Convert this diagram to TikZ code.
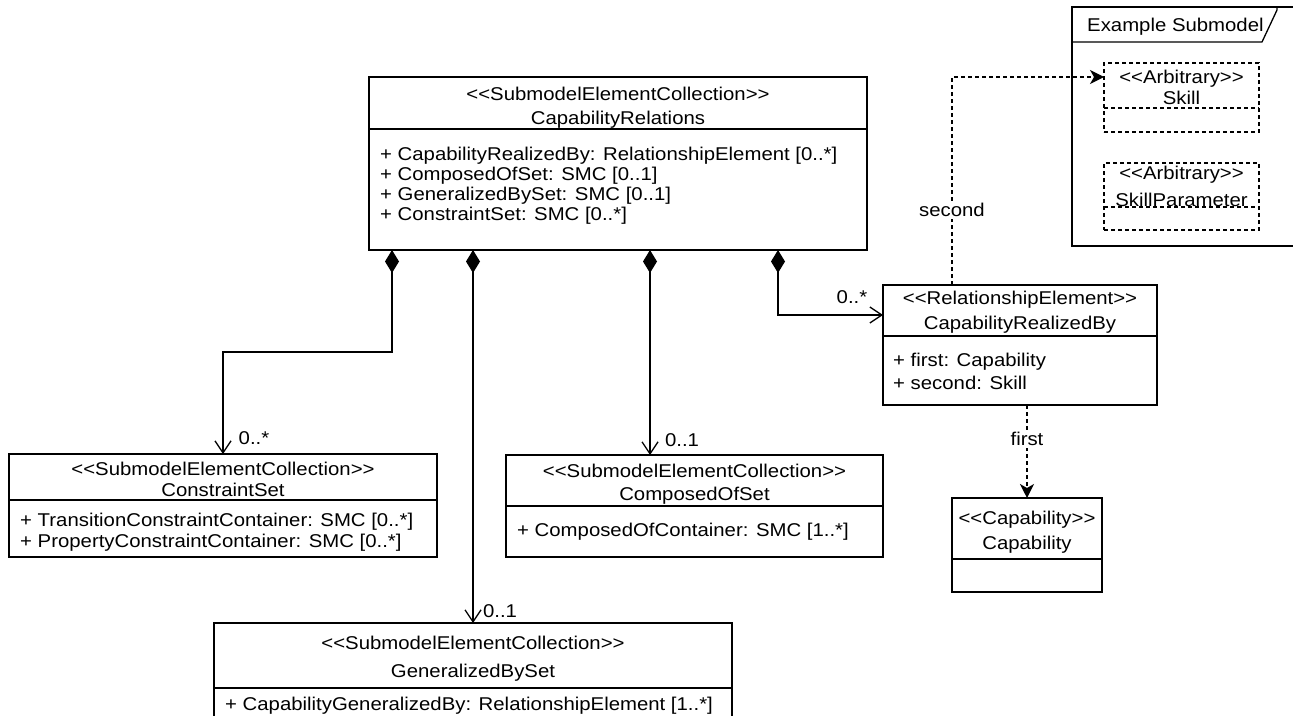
\documentclass[tikz,border=0pt]{standalone}
\usepackage{fontspec}
\setmainfont{Liberation Sans}[FakeStretch=1.1]
\usetikzlibrary{arrows.meta,calc}
\newcommand\stx[1]{<\kern0pt<#1>\kern0pt>}
\begin{document}
\begin{tikzpicture}[x=1pt,y=-1pt,
  font=\fontsize{18.5}{20}\selectfont,
  lw/.style={line width=1.3pt},
  cls/.style={draw,lw,anchor=north west,inner sep=0pt,outer sep=0pt},
  dcls/.style={cls,dash pattern=on 4pt off 3pt},
  txt/.style={anchor=base,inner sep=0pt},
  attr/.style={anchor=base west,inner sep=0pt},
  lbl/.style={anchor=center,inner sep=0pt},
  wlbl/.style={anchor=center,inner sep=2pt,fill=white},
  comp/.style={lw,{Diamond[length=23pt,width=14pt]}-{Straight Barb[length=12pt,width=16pt]}},
  dep/.style={lw,dash pattern=on 4pt off 3pt,-{Stealth[length=14pt,width=14pt,inset=4pt]}},
]
\useasboundingbox (0,0) rectangle (1293,715);
\clip (0,0) rectangle (1293,715);

% main box
\node[cls,minimum width=498pt,minimum height=173pt] (rel) at (369,77) {};
\draw[lw] ($(rel.north west)+(0,52)$) -- ($(rel.north east)+(0,52)$);
\node[txt] (relS) at (618,100) {\stx{SubmodelElementCollection}};
\node[txt] (relN) at (618,124) {CapabilityRelations};
\node[attr] (relA1) at (380,160) {+ CapabilityRealizedBy: RelationshipElement [0..*]};
\node[attr] (relA2) at (380,180) {+ ComposedOfSet: SMC [0..1]};
\node[attr] (relA3) at (380,200) {+ GeneralizedBySet: SMC [0..1]};
\node[attr] (relA4) at (380,220) {+ ConstraintSet: SMC [0..*]};

% ConstraintSet
\node[cls,minimum width=428pt,minimum height=103pt] (cs) at (9,454) {};
\draw[lw] ($(cs.north west)+(0,46)$) -- ($(cs.north east)+(0,46)$);
\node[txt] (csS) at (223,475) {\stx{SubmodelElementCollection}};
\node[txt] (csN) at (223,496) {ConstraintSet};
\node[attr] (csA1) at (20,526) {+ TransitionConstraintContainer: SMC [0..*]};
\node[attr] (csA2) at (20,547) {+ PropertyConstraintContainer: SMC [0..*]};

% ComposedOfSet
\node[cls,minimum width=377pt,minimum height=102pt] (co) at (506,455) {};
\draw[lw] ($(co.north west)+(0,51)$) -- ($(co.north east)+(0,51)$);
\node[txt] (coS) at (694.5,477) {\stx{SubmodelElementCollection}};
\node[txt] (coN) at (694.5,500) {ComposedOfSet};
\node[attr] (coA1) at (517,536) {+ ComposedOfContainer: SMC [1..*]};

% GeneralizedBySet
\node[cls,minimum width=518pt,minimum height=110pt] (gb) at (214,623) {};
\draw[lw] ($(gb.north west)+(0,65)$) -- ($(gb.north east)+(0,65)$);
\node[txt] (gbS) at (473,649) {\stx{SubmodelElementCollection}};
\node[txt] (gbN) at (473,677) {GeneralizedBySet};
\node[attr] (gbA1) at (225,710) {+ CapabilityGeneralizedBy: RelationshipElement [1..*]};

% CapabilityRealizedBy
\node[cls,minimum width=274pt,minimum height=120pt] (crb) at (883,285) {};
\draw[lw] ($(crb.north west)+(0,51)$) -- ($(crb.north east)+(0,51)$);
\node[txt] (crbS) at (1020,304) {\stx{RelationshipElement}};
\node[txt] (crbN) at (1020,329) {CapabilityRealizedBy};
\node[attr] (crbA1) at (893,366) {+ first: Capability};
\node[attr] (crbA2) at (893,389) {+ second: Skill};

% Capability
\node[cls,minimum width=150pt,minimum height=94pt] (cap) at (952,498) {};
\draw[lw] ($(cap.north west)+(0,61)$) -- ($(cap.north east)+(0,61)$);
\node[txt] (capS) at (1027,524) {\stx{Capability}};
\node[txt] (capN) at (1027,549) {Capability};

% Example Submodel frame
\node[cls,minimum width=228pt,minimum height=239pt] (frm) at (1072,7) {};
\draw[lw] ($(frm.north west)+(0,35)$) -- ($(frm.north west)+(190,35)$) -- ($(frm.north west)+(205,3)$) -- ($(frm.north west)+(205,0)$);
\node[attr] (frmT) at (1087,31) {Example Submodel};

% Skill
\node[dcls,minimum width=155pt,minimum height=69pt] (sk) at (1104,63) {};
\draw[lw,dash pattern=on 4pt off 3pt] ($(sk.north west)+(0,45)$) -- ($(sk.north east)+(0,45)$);
\node[txt] (skS) at (1181.5,83) {\stx{Arbitrary}};
\node[txt] (skN) at (1181.5,104) {Skill};

% SkillParameter
\node[dcls,minimum width=155pt,minimum height=67pt] (sp) at (1104,163) {};
\draw[lw,dash pattern=on 4pt off 3pt] ($(sp.north west)+(0,44)$) -- ($(sp.north east)+(0,44)$);
\node[txt] (spS) at (1181.5,179) {\stx{Arbitrary}};
\node[txt] (spN) at (1181.5,206) {SkillParameter};

% compositions
\draw[comp] ($(rel.south west)+(23,0)$) -- ++(0,102) -| (cs.north);
\draw[comp] (gb.north |- rel.south) -- (gb.north);
\draw[comp] ($(rel.south west)+(281,0)$) -- ($(co.north west)+(144,0)$);
\draw[comp] ($(rel.south west)+(409,0)$) |- ($(crb.north west)+(0,30)$);

\node[lbl] (m1) at (254,438) {0..*};
\node[lbl] (m2) at (500,611) {0..1};
\node[lbl] (m3) at (682,440) {0..1};
\node[lbl] (m4) at (852,297) {0..*};

% dependencies
\draw[dep] ($(crb.north west)+(69,0)$) |- ($(sk.north west)+(0,14)$);
\node[wlbl] (secL) at (952,210) {second};
\draw[dep] (cap.north |- crb.south) -- (cap.north);
\node[wlbl] (firL) at (1027,439) {first};
\end{tikzpicture}
\end{document}
